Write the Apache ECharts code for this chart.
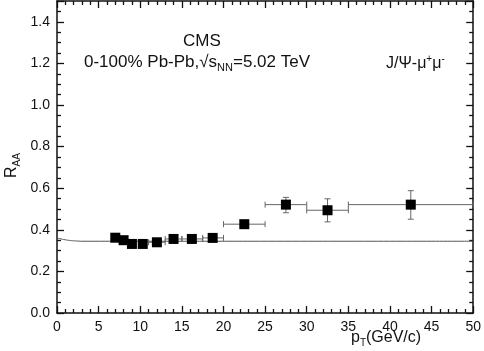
<!DOCTYPE html>
<html>
<head>
<meta charset="utf-8">
<script src="https://cdn.jsdelivr.net/npm/echarts@6/dist/echarts.min.js"></script>
<style>
  html, body { margin: 0; padding: 0; background: #fff; }
  #chart { width: 484px; height: 351px; }
</style>
</head>
<body>
<div id="chart"></div>
<script>
// CMS J/psi R_AA vs pT
const ptX  = [7.0, 8.0, 9.0, 10.3, 12.0, 14.0, 16.2, 18.7, 22.5, 27.5, 32.5, 42.5];
const raa  = [0.362, 0.350, 0.332, 0.332, 0.340, 0.356, 0.356, 0.361, 0.427, 0.521, 0.494, 0.521];
const xLow = [7.0, 8.0, 9.0, 10.3, 11.0, 13.0, 15.0, 17.5, 20.0, 25.0, 30.0, 35.0];
const xHigh = [7.0, 8.0, 9.0, 10.3, 13.0, 15.0, 17.5, 20.0, 25.0, 30.0, 35.0, 50.0];
const yLow = [0.362, 0.350, 0.332, 0.332, 0.340, 0.356, 0.356, 0.361, 0.427, 0.482, 0.438, 0.451];
const yHigh = [0.362, 0.350, 0.332, 0.332, 0.340, 0.356, 0.356, 0.361, 0.427, 0.556, 0.549, 0.588];

// model curve
const curveX = [0, 0.5, 1.0, 1.5, 2.0, 2.5, 3.0, 50];
const curveY = [0.360, 0.356, 0.352, 0.349, 0.347, 0.346, 0.345, 0.345];

const xTicks = { min: 0, max: 50, interval: 5 };
const yTicks = { min: 0, max: 1.5, interval: 0.2 };

const FONT = 'Liberation Sans';
const AXIS_COLOR = '#111';
const BAR_COLOR = '#666';

const chart = echarts.init(document.getElementById('chart'), null, { renderer: 'canvas' });

function axisCommon(showLabels, minorSplit) {
  return {
    axisLine: { show: true, onZero: false, lineStyle: { color: AXIS_COLOR, width: 1.5 } },
    axisTick: { show: true, inside: true, length: 7, lineStyle: { color: AXIS_COLOR, width: 1.3 } },
    minorTick: { show: true, splitNumber: minorSplit, length: 4, lineStyle: { color: AXIS_COLOR, width: 1.3 } },
    splitLine: { show: false },
    axisLabel: { show: showLabels, color: '#111', fontFamily: FONT, fontSize: 14, showMaxLabel: !!showLabels }
  };
}

const errData = ptX.map((x, i) => [x, raa[i], xLow[i], xHigh[i], yLow[i], yHigh[i]]);

function renderErr(params, api) {
  const c = api.coord([api.value(0), api.value(1)]);
  const xl = api.coord([api.value(2), api.value(1)]);
  const xh = api.coord([api.value(3), api.value(1)]);
  const yl = api.coord([api.value(0), api.value(4)]);
  const yh = api.coord([api.value(0), api.value(5)]);
  const style = { stroke: BAR_COLOR, lineWidth: 1 };
  const cap = 3;
  const children = [];
  if (xh[0] - xl[0] > 1) {
    children.push({ type: 'line', shape: { x1: xl[0], y1: c[1], x2: xh[0], y2: c[1] }, style });
    children.push({ type: 'line', shape: { x1: xl[0], y1: c[1] - cap, x2: xl[0], y2: c[1] + cap }, style });
    children.push({ type: 'line', shape: { x1: xh[0], y1: c[1] - cap, x2: xh[0], y2: c[1] + cap }, style });
  }
  if (yl[1] - yh[1] > 1) {
    children.push({ type: 'line', shape: { x1: c[0], y1: yl[1], x2: c[0], y2: yh[1] }, style });
    children.push({ type: 'line', shape: { x1: c[0] - cap, y1: yl[1], x2: c[0] + cap, y2: yl[1] }, style });
    children.push({ type: 'line', shape: { x1: c[0] - cap, y1: yh[1], x2: c[0] + cap, y2: yh[1] }, style });
  }
  return { type: 'group', children };
}

const xBottom = axisCommon(true, 5);
xBottom.axisLabel.margin = 7;
const yLeft = axisCommon(true, 4);
yLeft.axisLabel.margin = 7;
yLeft.axisLabel.showMaxLabel = false;
yLeft.axisLabel.formatter = v => v.toFixed(1);

const option = {
  backgroundColor: '#fff',
  animation: false,
  grid: { left: 57, right: 7, top: 1, bottom: 38, containLabel: false },
  xAxis: [
    Object.assign({ type: 'value', position: 'bottom', min: xTicks.min, max: xTicks.max, interval: xTicks.interval }, xBottom),
    Object.assign({ type: 'value', position: 'top', min: xTicks.min, max: xTicks.max, interval: xTicks.interval }, axisCommon(false, 5))
  ],
  yAxis: [
    Object.assign({ type: 'value', position: 'left', min: yTicks.min, max: yTicks.max, interval: yTicks.interval }, yLeft),
    Object.assign({ type: 'value', position: 'right', min: yTicks.min, max: yTicks.max, interval: yTicks.interval }, axisCommon(false, 4))
  ],
  series: [
    {
      type: 'line',
      data: curveX.map((x, i) => [x, curveY[i]]),
      smooth: true,
      showSymbol: false,
      lineStyle: { color: '#555', width: 1 },
      z: 2
    },
    {
      type: 'custom',
      data: errData,
      renderItem: renderErr,
      encode: { x: [0, 2, 3], y: [1, 4, 5] },
      z: 3
    },
    {
      type: 'scatter',
      data: ptX.map((x, i) => [x, raa[i]]),
      symbol: 'rect',
      symbolSize: 10,
      itemStyle: { color: '#000', opacity: 1 },
      z: 4
    }
  ],
  graphic: [
    {
      type: 'text', left: 183, top: 33,
      style: { text: 'CMS', font: '17px "' + FONT + '"', fill: '#111' }
    },
    {
      type: 'text', left: 84, top: 54,
      style: {
        text: '{m|0-100% Pb-Pb,\u221As}{s|NN}{m|=5.02 TeV}',
        fill: '#111',
        rich: {
          m: { fontFamily: FONT, fontSize: 17, fill: '#111' },
          s: { fontFamily: FONT, fontSize: 11, fill: '#111', padding: [10, 0, 0, 0] }
        }
      }
    },
    {
      type: 'text', left: 386, top: 54,
      style: {
        text: '{m|J/\u03A8-\u03BC}{p|+}{m|\u03BC}{p|-}',
        fill: '#111',
        rich: {
          m: { fontFamily: FONT, fontSize: 16, fill: '#111' },
          p: { fontFamily: FONT, fontSize: 10, fill: '#111', padding: [0, 0, 10, 0] }
        }
      }
    },
    {
      type: 'text', x: 351, y: 328,
      style: {
        text: '{m|p}{s|T}{m|(GeV/c)}',
        fill: '#111',
        rich: {
          m: { fontFamily: FONT, fontSize: 16, fill: '#111' },
          s: { fontFamily: FONT, fontSize: 10, fill: '#111', padding: [10, 0, 0, 0] }
        }
      }
    },
    {
      type: 'text', x: 2, y: 178, rotation: Math.PI / 2,
      style: {
        text: '{m|R}{s|AA}',
        fill: '#111',
        rich: {
          m: { fontFamily: FONT, fontSize: 16, fill: '#111' },
          s: { fontFamily: FONT, fontSize: 10, fill: '#111', padding: [10, 0, 0, 0] }
        }
      }
    }
  ]
};

chart.setOption(option);
</script>
</body>
</html>
